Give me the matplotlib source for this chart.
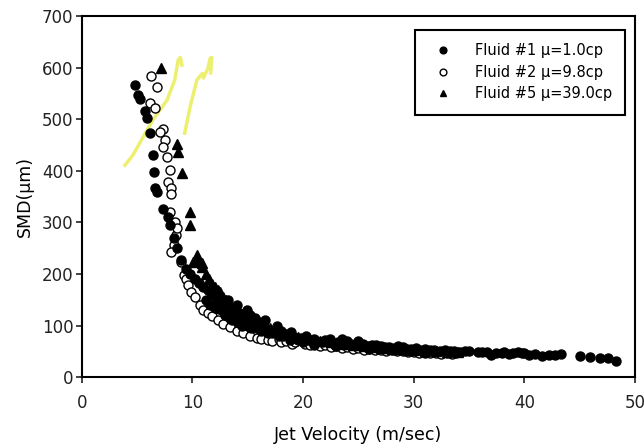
import matplotlib.pyplot as plt

plt.rcParams['font.family'] = ['DejaVu Sans']

# Fluid #1 (filled circles)
f1_x = [4.8, 5.1, 5.3, 5.7, 5.9, 6.2, 6.4, 6.5, 6.6, 6.8, 7.3, 7.8, 8.0, 8.3, 8.6,
        9.0, 9.4, 9.8, 10.2, 10.6, 11.0, 11.2, 11.4, 11.6, 11.8, 12.0, 12.0, 12.2,
        12.4, 12.6, 12.8, 12.9, 13.0, 13.2, 13.3, 13.5, 13.6, 13.7, 14.0, 14.1, 14.2,
        14.4, 14.5, 14.8, 14.9, 15.0, 15.2, 15.3, 15.6, 15.7, 15.8, 16.0, 16.2, 16.5,
        16.6, 16.8, 17.0, 17.2, 17.5, 17.6, 17.8, 18.0, 18.2, 18.6, 18.8, 18.9, 19.2,
        19.5, 19.8, 20.0, 20.3, 20.5, 21.0, 21.0, 21.2, 21.7, 22.0, 22.4, 22.8, 23.0,
        23.2, 23.5, 24.0, 24.3, 24.7, 25.0, 25.4, 25.8, 26.0, 26.2, 26.6, 27.0, 27.4,
        27.8, 28.2, 28.6, 29.0, 29.4, 29.8, 30.2, 30.6, 31.0, 31.0, 31.5, 31.8, 32.4,
        32.8, 33.3, 33.6, 33.8, 34.2, 34.6, 35.0, 35.8, 36.2, 36.6, 37.0, 37.4, 38.0,
        38.2, 38.6, 39.0, 39.4, 39.8, 40.0, 40.4, 41.0, 41.6, 42.2, 42.8, 43.3, 45.0,
        45.9, 46.8, 47.6, 48.3]
f1_y = [566, 547, 540, 517, 502, 473, 430, 397, 366, 360, 327, 310, 295, 270, 250,
        228, 210, 200, 190, 182, 175, 150, 170, 140, 160, 135, 165, 150,
        132, 145, 128, 120, 140, 150, 130, 115, 110, 125, 140, 125, 105,
        118, 100, 110, 130, 100, 120, 95, 105, 115, 95, 108, 90, 98,
        110, 85, 92, 85, 88, 100, 80, 90, 80, 82, 72, 88, 78,
        72, 76, 68, 80, 72, 63, 75, 70, 68, 72, 74, 66, 60,
        68, 75, 70, 64, 62, 70, 65, 60, 55, 63, 62, 60, 58,
        58, 56, 60, 58, 55, 54, 56, 52, 47, 54, 53, 52, 50,
        53, 51, 50, 46, 49, 51, 50, 48, 49, 48, 44, 47, 47,
        48, 45, 46, 48, 47, 46, 44, 45, 42, 43, 44, 45, 41,
        40, 38, 37, 32]

# Fluid #2 (open circles)
f2_x = [6.3, 6.8, 6.15, 6.6, 7.35, 7.05, 7.5, 7.35, 7.7, 7.95, 7.8, 8.1, 8.1, 8.0,
        8.4, 8.5, 8.6, 8.3, 8.1, 9.0, 9.2, 9.4, 9.6, 9.9, 10.2, 10.7, 11.0, 11.4,
        11.8, 12.3, 12.8, 13.4, 14.0, 14.6, 15.2, 15.8, 16.2, 16.8, 17.2, 17.8, 18.0,
        18.5, 19.0, 19.3, 20.2, 20.6, 21.0, 21.5, 22.0, 22.5, 23.0, 23.5, 24.0, 24.5,
        25.0, 25.5, 26.0, 26.5, 27.0, 27.5, 28.0, 28.5, 29.0, 29.5, 30.0, 30.5, 31.0,
        31.5, 32.0, 32.5, 33.0, 33.5]
f2_y = [583, 562, 531, 521, 482, 475, 459, 446, 427, 401, 378, 366, 356, 320,
        300, 275, 290, 256, 243, 223, 198, 190, 178, 165, 155, 140, 130, 124,
        118, 110, 104, 97, 90, 85, 80, 76, 74, 72, 70, 75, 68,
        70, 65, 68, 65, 62, 66, 60, 62, 58, 60, 57, 58, 55,
        56, 53, 55, 52, 53, 51, 52, 50, 50, 48, 49, 47, 48,
        46, 47, 45, 46, 45]

# Fluid #5 (triangles)
f5_x = [7.2, 8.6, 8.7, 9.05, 9.8, 9.8, 10.05, 10.4, 10.85, 10.4, 10.9, 11.2, 11.5,
        11.8, 12.0, 12.3, 12.5, 12.8, 13.0, 13.3, 13.5, 13.8, 14.0, 14.3, 14.5, 14.8,
        15.0, 15.3, 15.5, 15.8, 16.0, 16.5, 17.0, 17.5, 18.0, 18.5, 19.0, 19.5, 20.0,
        20.5, 21.0, 21.5, 22.0, 22.5, 23.0, 23.5, 24.0, 24.5, 25.0, 25.5, 26.0, 26.5,
        27.0, 27.5, 28.0, 28.5, 29.0, 29.5, 30.0, 31.0, 32.0, 33.0, 34.0]
f5_y = [599, 453, 436, 395, 320, 295, 223, 236, 221, 227, 213, 200, 190,
        180, 175, 170, 165, 155, 150, 145, 140, 135, 130, 125, 122, 118,
        115, 112, 108, 100, 105, 98, 95, 92, 88, 84, 80, 78, 75,
        74, 72, 71, 70, 68, 66, 65, 64, 63, 62, 60, 60, 58,
        57, 56, 55, 55, 54, 53, 52, 51, 50, 49, 48]

# yellow highlighter strokes on the scan
hl1_x = [3.9, 4.6, 5.4, 6.4, 7.7, 8.4, 8.7, 8.9, 9.05]
hl1_y = [411, 430, 460, 498, 537, 576, 614, 620, 605]
hl2_x = [9.3, 9.8, 10.4, 10.9, 11.0, 11.4, 11.6, 11.75, 11.65]
hl2_y = [473, 525, 576, 589, 580, 599, 618, 620, 590]

fig = plt.figure(figsize=(6.44, 4.48), dpi=100)
ax = fig.add_axes([0.127, 0.158, 0.859, 0.806])

ax.plot(hl1_x, hl1_y, color='#e8ec4c', lw=2.5, alpha=0.8, zorder=1)
ax.plot(hl2_x, hl2_y, color='#e8ec4c', lw=2.5, alpha=0.8, zorder=1)

ax.plot(f1_x, f1_y, 'o', ms=6.5, mfc='black', mec='black', ls='none',
        label='Fluid #1 \u03bc=1.0cp', zorder=3)
ax.plot(f2_x, f2_y, 'o', ms=6.5, mfc='white', mec='black', mew=1, ls='none',
        label='Fluid #2 \u03bc=9.8cp', zorder=2)
ax.plot(f5_x, f5_y, '^', ms=6.5, mfc='black', mec='black', ls='none',
        label='Fluid #5 \u03bc=39.0cp', zorder=3)

ax.set_xlim(0, 50)
ax.set_ylim(0, 700)
ax.set_xticks([0, 10, 20, 30, 40, 50])
ax.set_yticks(range(0, 701, 100))
ax.tick_params(direction='out', length=4, width=1.2, labelsize=12, colors='#222222')
ax.tick_params(axis='x', pad=8)
ax.tick_params(axis='y', pad=2)
for s in ax.spines.values():
    s.set_linewidth(1.5)

ax.set_xlabel('Jet Velocity (m/sec)', fontsize=12.5, labelpad=10)
ax.set_ylabel('SMD(\u03bcm)', fontsize=12.5, labelpad=6)

leg = ax.legend(loc='upper right', bbox_to_anchor=(0.982, 0.961), borderaxespad=0,
                fontsize=10.5, fancybox=False, edgecolor='black', framealpha=1,
                markerscale=0.75, handlelength=2.0, handletextpad=1.2,
                borderpad=0.9, labelspacing=0.45)
leg.get_frame().set_linewidth(1.5)

fig.savefig('out.png', dpi=100)
